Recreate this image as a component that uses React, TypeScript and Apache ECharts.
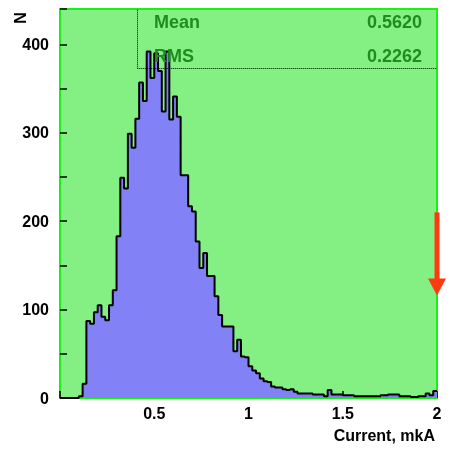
import { useEffect, useRef } from "react";
import * as echarts from "echarts";

const binWidth = 0.02;
const binCounts = [
  0, 0, 0, 0, 0, 2, 16, 87, 84, 97,
  105, 92, 88, 105, 122, 183, 249, 237, 299, 283,
  316, 357, 336, 392, 362, 390, 370, 324, 392, 315,
  341, 318, 252, 252, 217, 211, 177, 147, 164, 138,
  138, 115, 94, 81, 81, 81, 53, 66, 47, 46,
  36, 31, 28, 22, 19, 18, 13, 12, 12, 10,
  9, 10, 7, 5, 5, 5, 5, 4, 4, 4,
  2, 9, 4, 4, 4, 3, 3, 3, 2, 2,
  2, 2, 2, 2, 2, 3, 3, 4, 4, 4,
  2, 2, 2, 1, 1, 2, 2, 5, 3, 8,
];
const statNames = ["Mean", "RMS"];
const statValues = ["0.5620", "0.2262"];
const statBoxCorner = [0.41, 372.5];
const arrowStart = [2, 210];
const arrowEnd = [2, 116];
const xTitle = "Current, mkA";
const yTitle = "N";

const FONT = "'Liberation Sans', Arial, Helvetica, sans-serif";

export default function App() {
  const ref = useRef<HTMLDivElement>(null);
  useEffect(() => {
    const chart = echarts.init(ref.current!, null, { renderer: "svg" });
    const histData: number[][] = binCounts.map((c, i) => [+(i * binWidth).toFixed(2), c]);
    histData.push([2, binCounts[binCounts.length - 1]]);

    chart.setOption({
      animation: false,
      grid: {
        left: 60,
        top: 9,
        right: 13,
        bottom: 56,
        show: true,
        backgroundColor: "#84f084",
        borderColor: "#18f018",
        borderWidth: 2,
      },
      xAxis: {
        type: "value",
        min: 0,
        max: 2,
        interval: 0.5,
        axisLine: { show: false },
        splitLine: { show: false },
        axisTick: { show: true, inside: true, length: 7, lineStyle: { color: "#000", width: 1.5 } },
        minorTick: { show: true, splitNumber: 2, length: 3, lineStyle: { color: "#000", width: 1.5 } },
        axisLabel: {
          showMinLabel: false,
          margin: 7,
          color: "#000",
          fontSize: 16,
          fontWeight: "bold",
          fontFamily: FONT,
        },
      },
      yAxis: {
        type: "value",
        min: 0,
        max: 440,
        interval: 100,
        axisLine: { show: false },
        splitLine: { show: false },
        axisTick: { show: true, inside: true, length: 7, lineStyle: { color: "#000", width: 1.5 } },
        minorTick: { show: true, splitNumber: 2, length: 7, lineStyle: { color: "#000", width: 1.5 } },
        axisLabel: {
          showMaxLabel: false,
          margin: 11,
          color: "#000",
          fontSize: 16,
          fontWeight: "bold",
          fontFamily: FONT,
        },
      },
      series: [
        {
          type: "line",
          step: "end",
          data: histData,
          symbol: "none",
          lineStyle: { color: "#000", width: 2 },
          areaStyle: { color: "#8282f6", opacity: 1 },
          z: 2,
        },
        {
          type: "line",
          data: [],
          markLine: {
            silent: true,
            symbol: "none",
            label: { show: false },
            lineStyle: { color: "#000", type: "dotted", width: 1 },
            data: [
              [{ coord: [statBoxCorner[0], statBoxCorner[1]] }, { coord: [statBoxCorner[0], 440] }],
              [{ coord: [statBoxCorner[0], statBoxCorner[1]] }, { coord: [2, statBoxCorner[1]] }],
            ],
          },
          z: 3,
        },
      ],
    });

    const p1 = chart.convertToPixel({ gridIndex: 0 }, arrowStart) as number[];
    const p2 = chart.convertToPixel({ gridIndex: 0 }, arrowEnd) as number[];
    const headH = 17;
    const graphics: any[] = [
      {
        type: "rect",
        shape: { x: p1[0] - 2.5, y: p1[1], width: 5, height: p2[1] - p1[1] - headH + 1 },
        style: { fill: "#ff3a10" },
        z: 10,
      },
      {
        type: "polygon",
        shape: {
          points: [
            [p2[0] - 9, p2[1] - headH],
            [p2[0] + 9, p2[1] - headH],
            [p2[0], p2[1]],
          ],
        },
        style: { fill: "#ff3a10" },
        z: 10,
      },
      {
        type: "text",
        x: 20,
        y: 18,
        rotation: Math.PI / 2,
        style: {
          text: yTitle,
          fill: "#000",
          font: `bold 16px ${FONT}`,
          align: "center",
          verticalAlign: "middle",
        },
      },
      {
        type: "text",
        x: 435,
        y: 435,
        style: {
          text: xTitle,
          fill: "#000",
          font: `bold 16px ${FONT}`,
          align: "right",
          verticalAlign: "middle",
        },
      },
    ];
    statNames.forEach((n, i) => {
      const y = 22 + i * 34;
      graphics.push({
        type: "text",
        x: 154,
        y,
        style: { text: n, fill: "#1e8c1e", font: `bold 18px ${FONT}`, align: "left", verticalAlign: "middle" },
        z: 5,
      });
      graphics.push({
        type: "text",
        x: 422,
        y,
        style: { text: statValues[i], fill: "#1e8c1e", font: `bold 18px ${FONT}`, align: "right", verticalAlign: "middle" },
        z: 5,
      });
    });
    chart.setOption({ graphic: graphics });

    return () => chart.dispose();
  }, []);
  return <div ref={ref} style={{ position: "fixed", left: 0, top: 0, width: 450, height: 454 }} />;
}
